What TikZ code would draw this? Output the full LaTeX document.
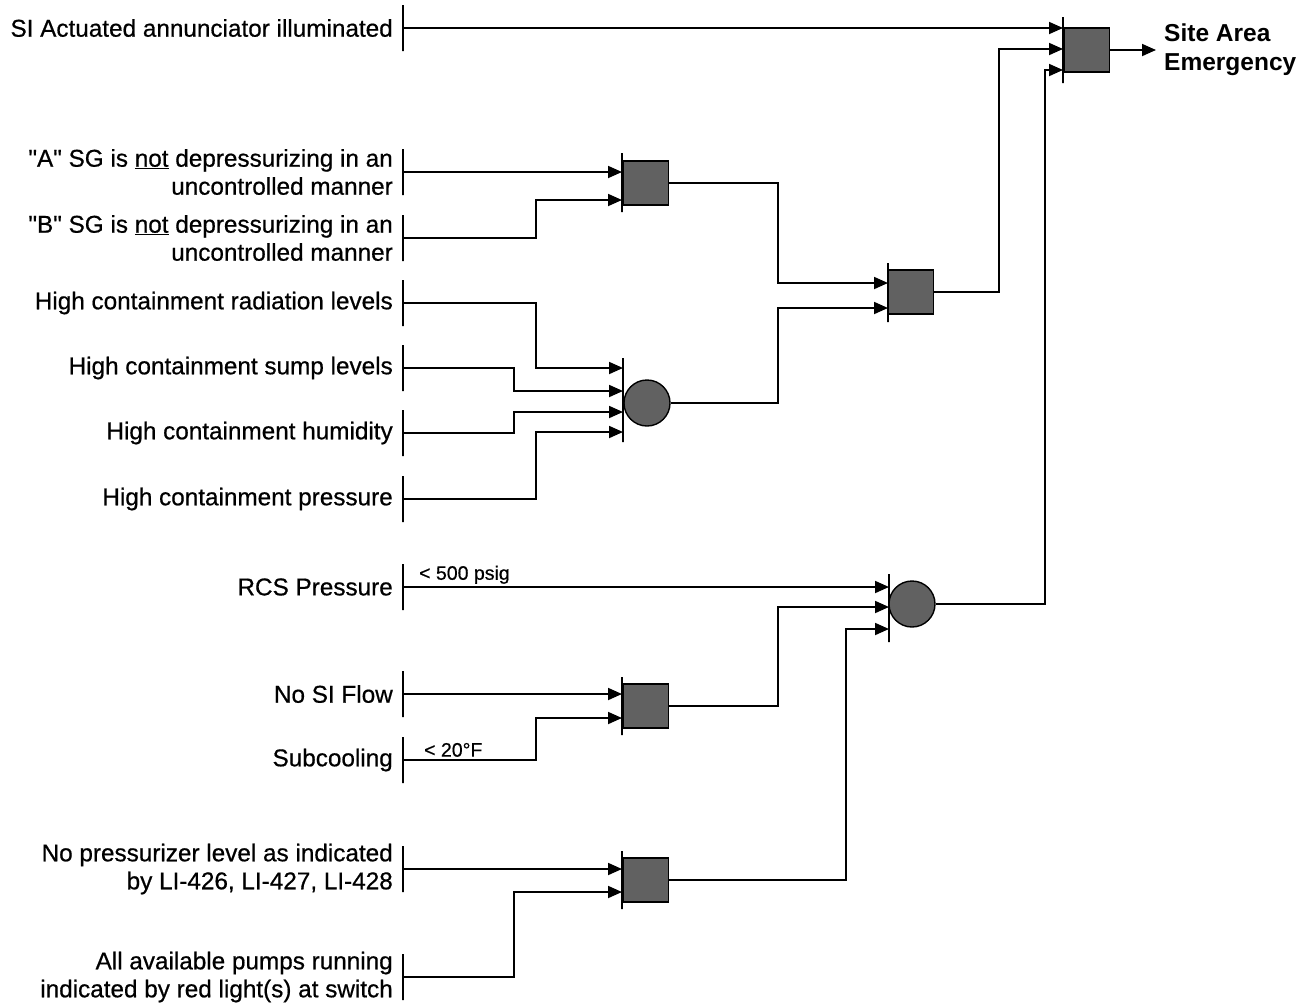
\documentclass[tikz,border=0pt]{standalone}
\usepackage{fontspec}
\setmainfont{Liberation Sans}[Ligatures=TeXOff, FakeBold=0.6]
\newfontfamily\boldlab{Liberation Sans Bold}[Ligatures=TeXOff]
\usetikzlibrary{arrows.meta}
\begin{document}
\begin{tikzpicture}[x=1pt,y=-1pt,
  lab/.style={anchor=east, align=right, inner sep=0pt, font=\fontsize{24.3}{28}\selectfont},
  small/.style={anchor=south west, inner sep=0pt, font=\fontsize{19.5}{22}\selectfont},
  ibar/.style={draw, line width=2.8pt, minimum width=0pt, minimum height=#1, inner sep=0pt, outer sep=0pt},
  andg/.style={draw, fill=black!62, line width=1.4pt, minimum width=45pt, minimum height=44pt, inner sep=0pt},
  org/.style={circle, draw, fill=black!62, line width=1.4pt, minimum size=46pt, inner sep=0pt},
  wire/.style={line width=1.8pt},
  arr/.style={wire, -{Triangle[length=14pt,width=12pt]}}
]
\useasboundingbox (0,0) rectangle (1311,1007);

% ---- input labels and bars
\node[lab] (lSI) at (393,28) {SI Actuated annunciator illuminated};
\node[ibar=46pt] (bSI) at (403,28) {};
\node[lab] (lA) at (393,172) {"A" SG is \underline{not} depressurizing in an\\uncontrolled manner};
\node[ibar=46pt] (bA) at (403,172) {};
\node[lab] (lB) at (393,238) {"B" SG is \underline{not} depressurizing in an\\uncontrolled manner};
\node[ibar=46pt] (bB) at (403,238) {};
\node[lab] (lRad) at (393,303) {High containment radiation levels};
\node[ibar=46pt] (bRad) at (403,303) {};
\node[lab] (lSump) at (393,368) {High containment sump levels};
\node[ibar=46pt] (bSump) at (403,368) {};
\node[lab] (lHum) at (393,433) {High containment humidity};
\node[ibar=46pt] (bHum) at (403,433) {};
\node[lab] (lPres) at (393,499) {High containment pressure};
\node[ibar=46pt] (bPres) at (403,499) {};
\node[lab] (lRCS) at (393,587) {RCS Pressure};
\node[ibar=46pt] (bRCS) at (403,587) {};
\node[lab] (lNoSI) at (393,694) {No SI Flow};
\node[ibar=46pt] (bNoSI) at (403,694) {};
\node[lab] (lSub) at (393,760) {Subcooling};
\node[ibar=46pt] (bSub) at (403,760) {};
\node[lab] (lNoP) at (393,869) {No pressurizer level as indicated\\by LI-426, LI-427, LI-428};
\node[ibar=46pt] (bNoP) at (403,869) {};
\node[lab] (lPump) at (393,977) {All available pumps running\\indicated by red light(s) at switch};
\node[ibar=46pt] (bPump) at (403,977) {};

% ---- gates
% A/B AND gate
\node[ibar=59pt] (gAb) at (622,182.5) {};
\node[andg] (gA) at (646,183) {};
\coordinate (gA1) at (622,172);
\coordinate (gA2) at (622,200);
% OR gate (containment)
\node[ibar=84pt] (gOb) at (623,400) {};
\node[org] (gO) at (647,403) {};
\coordinate (gO1) at (623,368);
\coordinate (gO2) at (623,391);
\coordinate (gO3) at (623,412);
\coordinate (gO4) at (623,432);
% middle AND gate
\node[ibar=59pt] (gCb) at (888,292.5) {};
\node[andg] (gC) at (911,292) {};
\coordinate (gC1) at (888,283);
\coordinate (gC2) at (888,308);
% final AND gate
\node[ibar=66pt] (gFb) at (1063,50) {};
\node[andg] (gF) at (1087,50) {};
\coordinate (gF1) at (1063,28);
\coordinate (gF2) at (1063,49);
\coordinate (gF3) at (1063,70);
% lower OR gate
\node[ibar=68pt] (gPb) at (889,608) {};
\node[org] (gP) at (912,604) {};
\coordinate (gP1) at (889,587);
\coordinate (gP2) at (889,607);
\coordinate (gP3) at (889,629);
% SI flow AND gate
\node[ibar=58pt] (gDb) at (622,706) {};
\node[andg] (gD) at (646,706) {};
\coordinate (gD1) at (622,694);
\coordinate (gD2) at (622,718);
% pressurizer AND gate
\node[ibar=58pt] (gEb) at (622,880) {};
\node[andg] (gE) at (646,880) {};
\coordinate (gE1) at (622,869);
\coordinate (gE2) at (622,892);

% output
\node[anchor=west, align=left, inner sep=0pt, font=\fontsize{24.5}{29}\boldlab] (out) at (1164,50) {Site Area\\Emergency};
\coordinate (outtip) at (1156,50);

% ---- connectors
\draw[arr] (bSI.center) -- (gF1);
\draw[arr] (bA.center) -- (gA1);
\draw[arr] (bB.center) -- (536,238) |- (gA2);
\draw[arr] (gA.east) -- (778,183) |- (gC1);
\draw[arr] (bRad.center) -- (536,303) |- (gO1);
\draw[arr] (bSump.center) -- (514,368) |- (gO2);
\draw[arr] (bHum.center) -- (514,433) |- (gO3);
\draw[arr] (bPres.center) -- (536,499) |- (gO4);
\draw[arr] (gO.east) -- (778,403) |- (gC2);
\draw[arr] (gC.east) -- (999,292) |- (gF2);
\draw[arr] (gP.east) -- (1045,604) |- (gF3);
\draw[arr] (gF.east) -- (outtip);

\draw[arr] (bRCS.center) -- (gP1);
\node[small] (tRCS) at (419,584) {< 500 psig};
\draw[arr] (bNoSI.center) -- (gD1);
\draw[arr] (bSub.center) -- (536,760) |- (gD2);
\node[small] (tSub) at (424,757) {< 20°F};
\draw[arr] (gD.east) -- (778,706) |- (gP2);
\draw[arr] (bNoP.center) -- (gE1);
\draw[arr] (bPump.center) -- (514,977) |- (gE2);
\draw[arr] (gE.east) -- (846,880) |- (gP3);
\end{tikzpicture}
\end{document}
